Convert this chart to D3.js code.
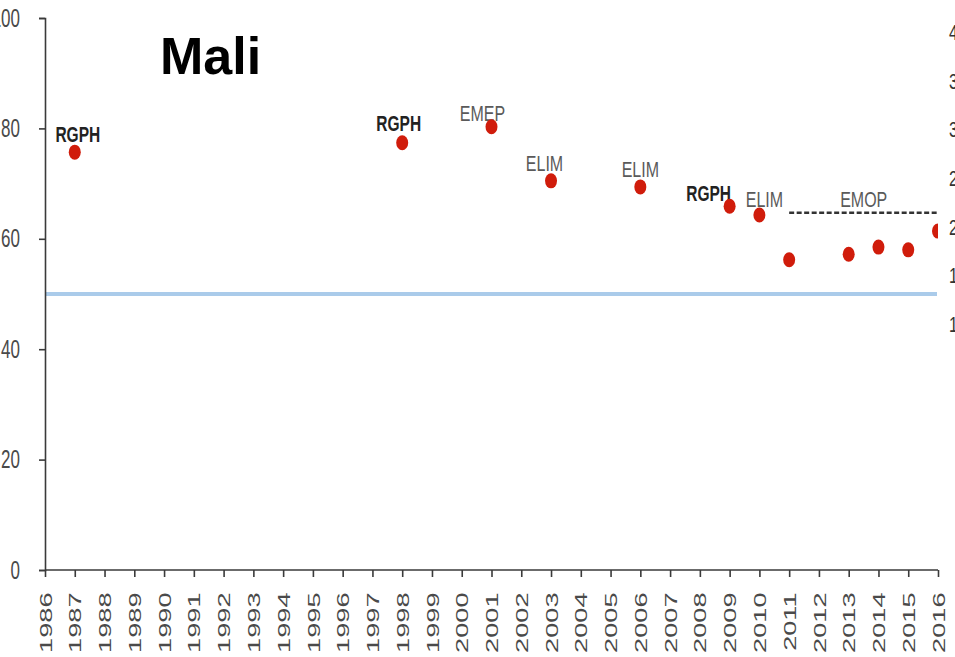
<!DOCTYPE html>
<html lang="en">
<head>
<meta charset="utf-8">
<style>
  body { margin: 0; background: white; }
  svg { font-family: 'Liberation Sans', Arial, sans-serif; }
  .axis path, .axis line { stroke: #3a3a3a; stroke-width: 1.6px; }
  .axis text { fill: #4a4a4a; }
  .lbl { font-size: 16px; fill: #5a5a5a; }
  .lbl.bold { font-weight: bold; font-size: 15.5px; fill: #222; }
</style>
</head>
<body>
<svg width="955" height="657"></svg>
<script src="https://d3js.org/d3.v7.min.js"></script>
<script>
// x categories: survey years
const years = d3.range(1986, 2017).map(String);

// observed points
const pointYears = ["1987", "1998", "2001", "2003", "2006", "2009", "2010", "2011", "2013", "2014", "2015", "2016"];
const pointValues = [75.7, 77.4, 80.3, 70.5, 69.4, 65.9, 64.3, 56.2, 57.2, 58.5, 58.0, 61.4];

// survey labels
const labelYears = ["1987", "1998", "2001", "2003", "2006", "2009", "2010"];
const labelTexts = ["RGPH", "RGPH", "EMEP", "ELIM", "ELIM", "RGPH", "ELIM"];
const labelBold = [true, true, false, false, false, true, false];

// EMOP range (dashed)
const emopYears = ["2011", "2016"];
const emopValue = 64.7;

const refValue = 50;
const yTicks = [0, 20, 40, 60, 80, 100];
const rightTicks = ["40", "35", "30", "25", "20", "15", "10"];

const svg = d3.select("svg");
const mLeft = 45, mRight = 938, mTop = 18, mBottom = 570;
const vStretch = 1.4; // text in the original looks vertically stretched

const x = d3.scalePoint().domain(years).range([mLeft, mRight]);
const y = d3.scaleLinear().domain([0, 100]).range([mBottom, mTop]);

svg.append("clipPath").attr("id", "plot")
  .append("rect").attr("x", mLeft).attr("y", 0).attr("width", mRight - mLeft).attr("height", mBottom);

// reference line at 50
svg.append("line")
  .attr("x1", mLeft).attr("x2", mRight - 1)
  .attr("y1", y(refValue)).attr("y2", y(refValue))
  .attr("stroke", "#aacbea").attr("stroke-width", 4);

// y axis
const yAxis = svg.append("g").attr("class", "axis")
  .attr("transform", `translate(${mLeft},0)`)
  .call(d3.axisLeft(y).tickValues(yTicks).tickSize(6).tickSizeOuter(6).tickPadding(19));
yAxis.selectAll("text")
  .attr("font-size", 17)
  .attr("transform", "scale(1,1.5)");

// x axis
const xAxis = svg.append("g").attr("class", "axis")
  .attr("transform", `translate(0,${mBottom})`)
  .call(d3.axisBottom(x).tickSize(7).tickSizeOuter(0));
xAxis.select(".domain").attr("d", `M${mLeft},0H${mRight}`);
xAxis.selectAll("text")
  .attr("transform", "rotate(-90) scale(1.6,1)")
  .attr("text-anchor", "end")
  .attr("x", -14).attr("y", 0).attr("dy", "0.36em")
  .attr("font-size", 17);

// dashed EMOP line
svg.append("line")
  .attr("x1", x(emopYears[0])).attr("x2", x(emopYears[1]))
  .attr("y1", y(emopValue)).attr("y2", y(emopValue))
  .attr("stroke", "#333").attr("stroke-width", 2.5)
  .attr("stroke-dasharray", "5,2.5");

svg.append("text").attr("class", "lbl")
  .attr("transform", `translate(${(x("2012") + x("2014")) / 2 + 15},${y(emopValue) - 6}) scale(1,${vStretch})`)
  .attr("text-anchor", "middle")
  .text("EMOP");

// labels
const labelOffsets = { "1987": [3, -10], "1998": [-3.5, -12], "2001": [-9, -6], "2003": [-6.5, -10], "2006": [0, -10], "2009": [-21, -5], "2010": [5, -8] };
labelYears.forEach((yr, i) => {
  const v = pointValues[pointYears.indexOf(yr)];
  const off = labelOffsets[yr];
  svg.append("text")
    .attr("class", labelBold[i] ? "lbl bold" : "lbl")
    .attr("transform", `translate(${x(yr) + off[0]},${y(v) + off[1]}) scale(1,${vStretch})`)
    .attr("text-anchor", "middle")
    .text(labelTexts[i]);
});

// points
svg.append("g").attr("clip-path", "url(#plot)")
  .selectAll("ellipse")
  .data(pointYears)
  .join("ellipse")
  .attr("cx", d => x(d))
  .attr("cy", (d, i) => y(pointValues[i]))
  .attr("rx", 6).attr("ry", 7.5)
  .attr("fill", "#d01c0b");

// right secondary axis labels (cut off by the frame)
rightTicks.forEach((t, i) => {
  svg.append("text")
    .attr("transform", `translate(949,${32 + i * 48.7}) scale(1,${vStretch})`)
    .attr("dy", "0.35em")
    .attr("fill", "#333").attr("font-size", 16)
    .text(t);
});

// title
svg.append("text")
  .attr("x", 160).attr("y", 74)
  .attr("font-weight", "bold").attr("font-size", 52)
  .attr("fill", "#000")
  .text("Mali");
</script>
</body>
</html>
